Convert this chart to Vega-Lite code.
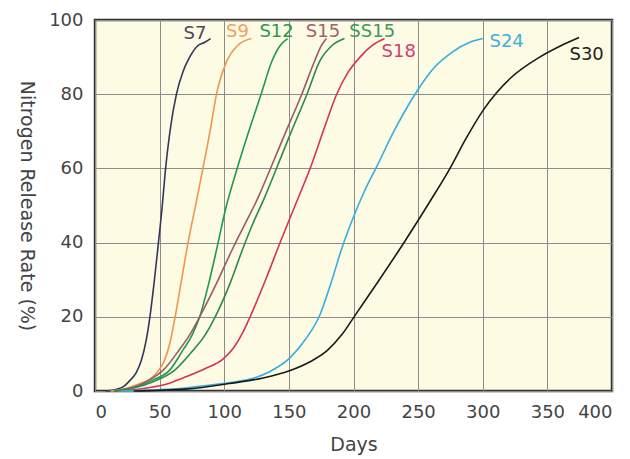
{
  "$schema": "https://vega.github.io/schema/vega-lite/v6.json",
  "width": 517,
  "height": 371,
  "autosize": {"type": "none"},
  "padding": {"left": 95, "top": 20, "right": 18, "bottom": 68},
  "background": "white",
  "config": {
    "view": {"fill": "#fdfbe3", "stroke": "#333333", "strokeWidth": 2.5},
    "font": "DejaVu Sans",
    "axis": {
      "grid": true, "gridColor": "#8c8c8c", "gridWidth": 1, "gridOpacity": 1,
      "domain": false, "ticks": false,
      "labelFont": "DejaVu Sans", "labelFontSize": 18, "labelColor": "#444444",
      "titleFont": "DejaVu Sans", "titleFontSize": 19, "titleColor": "#444444", "titleFontWeight": "normal"
    }
  },
  "datasets": {
    "curves": [
      {"s":"S7","d":8,"p":0},{"s":"S7","d":15,"p":0.3},{"s":"S7","d":22,"p":1.2},{"s":"S7","d":27,"p":2.8},{"s":"S7","d":32,"p":5},{"s":"S7","d":36,"p":8.4},{"s":"S7","d":39.5,"p":13.5},{"s":"S7","d":42.5,"p":20},{"s":"S7","d":46,"p":30},{"s":"S7","d":49.3,"p":40.7},{"s":"S7","d":51.8,"p":49},{"s":"S7","d":54.5,"p":59.6},{"s":"S7","d":58,"p":70},{"s":"S7","d":63,"p":80},{"s":"S7","d":68,"p":86},{"s":"S7","d":72.5,"p":89.5},{"s":"S7","d":78.7,"p":92.8},{"s":"S7","d":85,"p":94},{"s":"S7","d":89.5,"p":95},
      {"s":"S9","d":12,"p":0},{"s":"S9","d":25,"p":0.8},{"s":"S9","d":35,"p":2},{"s":"S9","d":42.5,"p":3.2},{"s":"S9","d":48,"p":5},{"s":"S9","d":54,"p":8.4},{"s":"S9","d":58,"p":13},{"s":"S9","d":62,"p":20},{"s":"S9","d":67,"p":30},{"s":"S9","d":72,"p":40},{"s":"S9","d":77.5,"p":49.5},{"s":"S9","d":83.5,"p":60},{"s":"S9","d":89,"p":70},{"s":"S9","d":94,"p":80},{"s":"S9","d":102,"p":89},{"s":"S9","d":110,"p":93},{"s":"S9","d":121,"p":95},
      {"s":"S12","d":15,"p":0},{"s":"S12","d":30,"p":1},{"s":"S12","d":45,"p":3},{"s":"S12","d":58,"p":5.7},{"s":"S12","d":68,"p":11},{"s":"S12","d":75,"p":15},{"s":"S12","d":81,"p":20},{"s":"S12","d":88,"p":29},{"s":"S12","d":94,"p":38},{"s":"S12","d":101,"p":49},{"s":"S12","d":110,"p":60},{"s":"S12","d":119,"p":70},{"s":"S12","d":128.5,"p":80},{"s":"S12","d":137,"p":89},{"s":"S12","d":143,"p":93},{"s":"S12","d":149,"p":95},
      {"s":"S15","d":15,"p":0},{"s":"S15","d":30,"p":1},{"s":"S15","d":42,"p":3},{"s":"S15","d":53,"p":5.7},{"s":"S15","d":65,"p":11},{"s":"S15","d":73,"p":15},{"s":"S15","d":81,"p":20},{"s":"S15","d":94,"p":29},{"s":"S15","d":106,"p":38},{"s":"S15","d":116,"p":45},{"s":"S15","d":126,"p":52},{"s":"S15","d":137,"p":61},{"s":"S15","d":149,"p":71},{"s":"S15","d":160,"p":80},{"s":"S15","d":170,"p":89},{"s":"S15","d":175,"p":93},{"s":"S15","d":179,"p":95},
      {"s":"SS15","d":15,"p":0},{"s":"SS15","d":30,"p":0.8},{"s":"SS15","d":45,"p":2.5},{"s":"SS15","d":62,"p":5.7},{"s":"SS15","d":76,"p":11},{"s":"SS15","d":85,"p":15},{"s":"SS15","d":93,"p":20},{"s":"SS15","d":104.5,"p":29},{"s":"SS15","d":114,"p":38},{"s":"SS15","d":122,"p":45},{"s":"SS15","d":131,"p":52},{"s":"SS15","d":141,"p":60.5},{"s":"SS15","d":152,"p":70},{"s":"SS15","d":164,"p":80},{"s":"SS15","d":174,"p":89},{"s":"SS15","d":183,"p":93},{"s":"SS15","d":193,"p":95},
      {"s":"S18","d":20,"p":0},{"s":"S18","d":40,"p":0.8},{"s":"S18","d":55,"p":1.8},{"s":"S18","d":68,"p":3.5},{"s":"S18","d":85,"p":6},{"s":"S18","d":99,"p":8.6},{"s":"S18","d":107,"p":11.5},{"s":"S18","d":114,"p":15.5},{"s":"S18","d":120,"p":20},{"s":"S18","d":132,"p":30},{"s":"S18","d":144,"p":40.7},{"s":"S18","d":156,"p":51},{"s":"S18","d":167,"p":60.5},{"s":"S18","d":177,"p":70.5},{"s":"S18","d":187,"p":80},{"s":"S18","d":196,"p":86},{"s":"S18","d":205,"p":90},{"s":"S18","d":214,"p":93},{"s":"S18","d":224,"p":95},
      {"s":"S24","d":20,"p":0},{"s":"S24","d":60,"p":0.5},{"s":"S24","d":86,"p":1.5},{"s":"S24","d":105,"p":2.3},{"s":"S24","d":120,"p":3.2},{"s":"S24","d":135,"p":5.2},{"s":"S24","d":151,"p":9},{"s":"S24","d":163,"p":14},{"s":"S24","d":174,"p":20.5},{"s":"S24","d":182.5,"p":29},{"s":"S24","d":191,"p":38.5},{"s":"S24","d":199.5,"p":46.5},{"s":"S24","d":208,"p":53.5},{"s":"S24","d":218,"p":60.5},{"s":"S24","d":232,"p":70.5},{"s":"S24","d":247.6,"p":80},{"s":"S24","d":262,"p":87},{"s":"S24","d":277,"p":91.5},{"s":"S24","d":290,"p":94},{"s":"S24","d":300,"p":95},
      {"s":"S30","d":30,"p":0},{"s":"S30","d":70,"p":0.5},{"s":"S30","d":104,"p":2},{"s":"S30","d":130,"p":3.5},{"s":"S30","d":151,"p":5.5},{"s":"S30","d":166,"p":7.8},{"s":"S30","d":180,"p":11},{"s":"S30","d":191,"p":15.2},{"s":"S30","d":202,"p":20.8},{"s":"S30","d":220,"p":30},{"s":"S30","d":240,"p":40.5},{"s":"S30","d":259,"p":51},{"s":"S30","d":274,"p":59.6},{"s":"S30","d":287,"p":68},{"s":"S30","d":300,"p":75.5},{"s":"S30","d":311,"p":80.5},{"s":"S30","d":322,"p":84.5},{"s":"S30","d":344,"p":90},{"s":"S30","d":360,"p":93},{"s":"S30","d":374.5,"p":95.3}
    ],
    "labels": [
      {"s":"S7","d":77.4,"p":96.3},
      {"s":"S9","d":110.2,"p":96.8},
      {"s":"S12","d":140.5,"p":96.8},
      {"s":"S15","d":176.4,"p":96.8},
      {"s":"SS15","d":214.5,"p":96.8},
      {"s":"S18","d":235,"p":91.5},
      {"s":"S24","d":318.5,"p":94.2},
      {"s":"S30","d":380.4,"p":90.6}
    ]
  },
  "layer": [
    {
      "data": {"name": "curves"},
      "mark": {"type": "line", "strokeWidth": 1.6, "interpolate": "monotone"},
      "encoding": {
        "x": {"field": "d", "type": "quantitative", "scale": {"domain": [0, 400], "nice": false}, "axis": {"values": [0,50,100,150,200,250,300,350,400], "title": "Days", "labelPadding": 12, "titlePadding": 14}},
        "y": {"field": "p", "type": "quantitative", "scale": {"domain": [0, 100], "nice": false}, "axis": {"values": [0,20,40,60,80,100], "title": "Nitrogen Release Rate (%)", "titleAngle": 90, "labelPadding": 12, "titlePadding": 32}},
        "color": {"field": "s", "type": "nominal", "legend": null,
          "scale": {"domain": ["S7","S9","S12","S15","SS15","S18","S24","S30"],
                    "range": ["#35365e","#ee974c","#1f9a4c","#9a5a6a","#2b8a4e","#d4325f","#34aee0","#1a1a1a"]}},
        "detail": {"field": "s"}
      }
    },
    {
      "data": {"name": "labels"},
      "mark": {"type": "text", "fontSize": 18, "font": "DejaVu Sans", "align": "center", "baseline": "middle"},
      "encoding": {
        "x": {"field": "d", "type": "quantitative"},
        "y": {"field": "p", "type": "quantitative"},
        "text": {"field": "s"},
        "color": {"field": "s", "type": "nominal", "legend": null,
          "scale": {"domain": ["S7","S9","S12","S15","SS15","S18","S24","S30"],
                    "range": ["#4a4a5a","#f0a060","#2a9a50","#a06070","#3a9a5a","#d04070","#40b0e0","#222222"]}}
      }
    }
  ],
  "resolve": {"scale": {"color": "independent"}}
}
